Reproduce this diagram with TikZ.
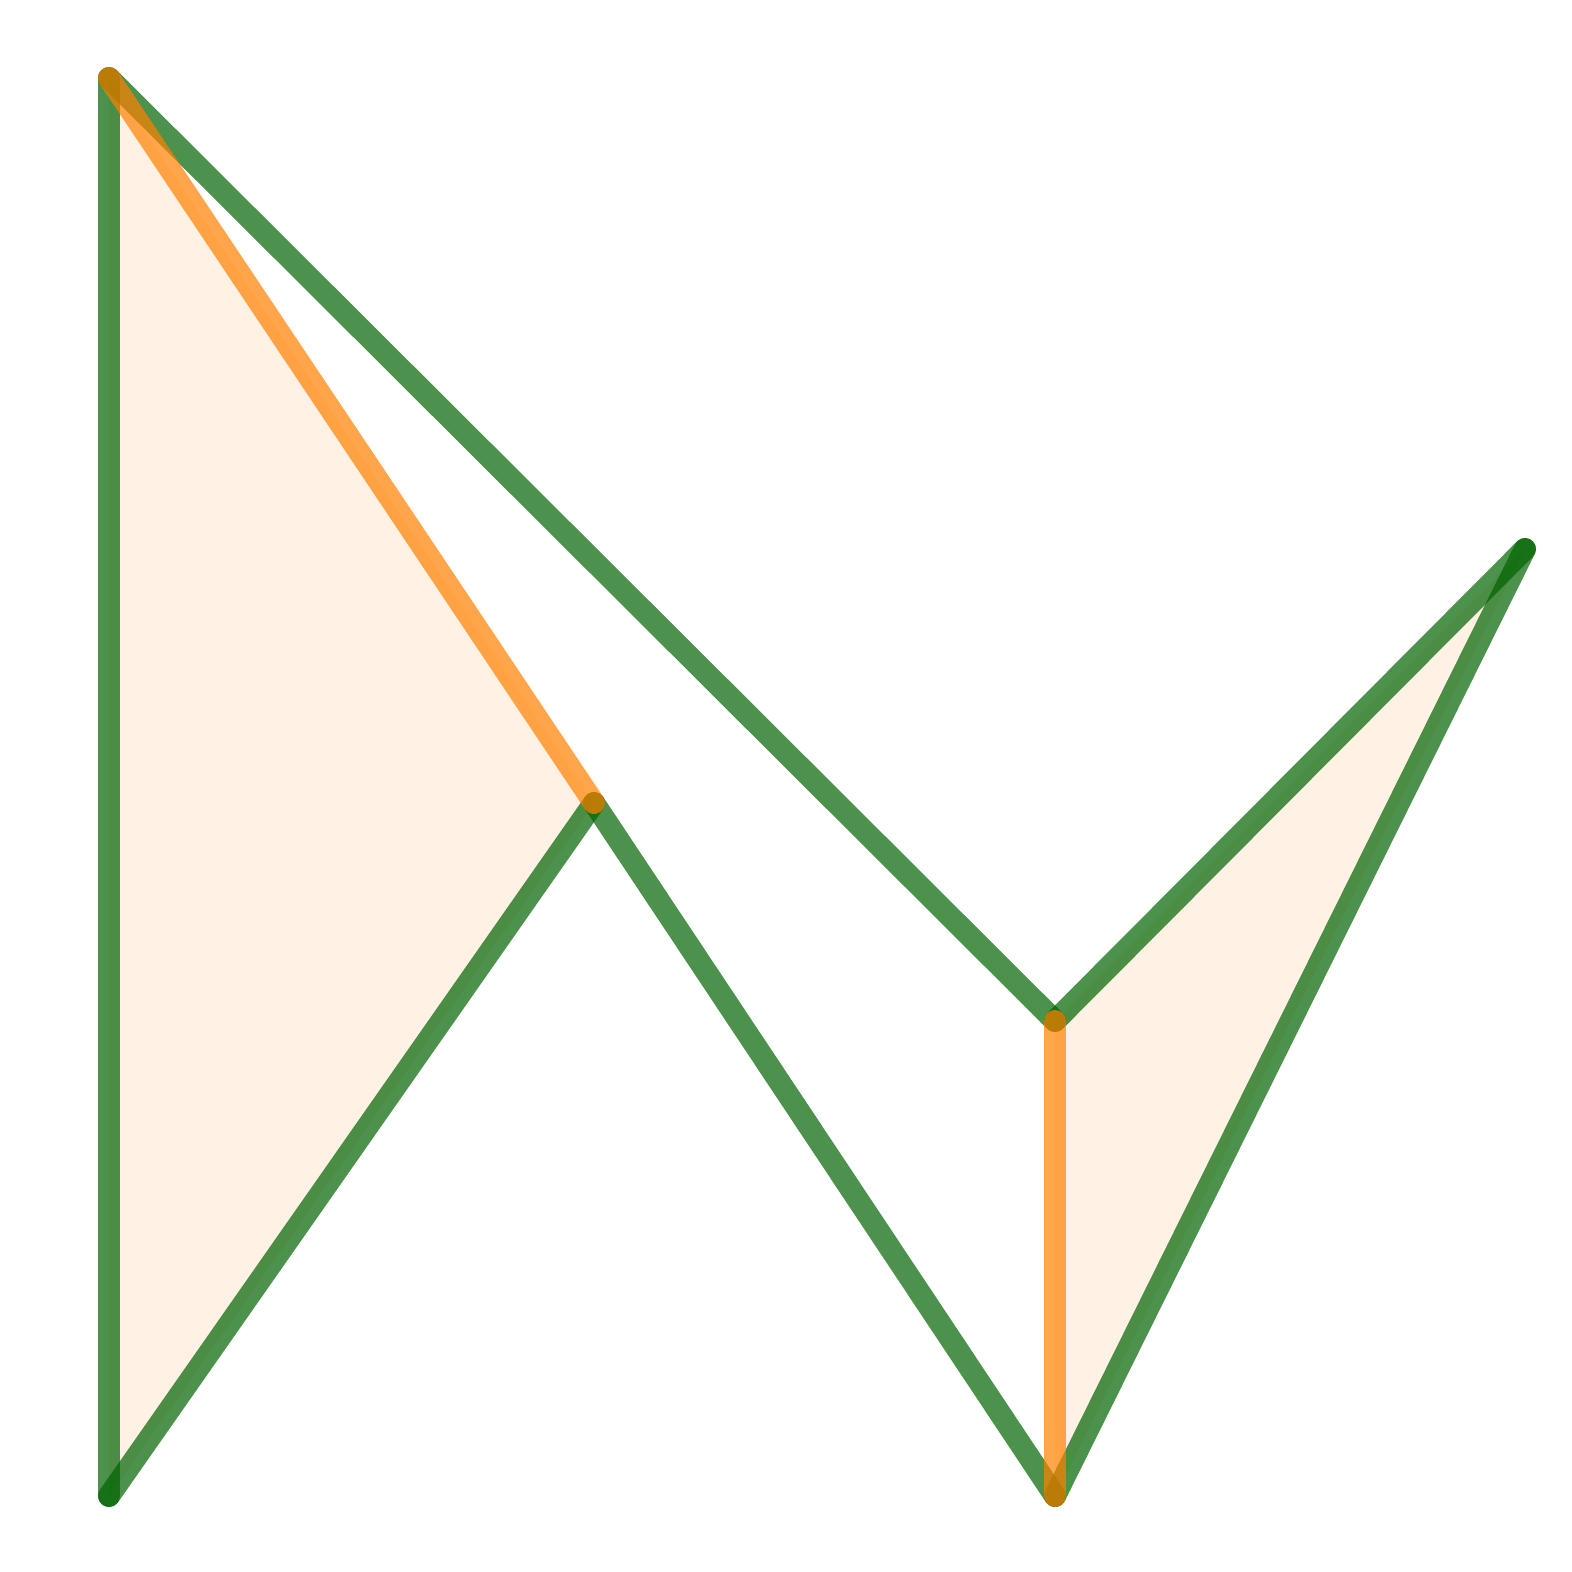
\documentclass[tikz,border=0pt]{standalone}
\begin{document}
\begin{tikzpicture}[
  gline/.style={draw=green!39!black, line width=0.22cm, line cap=round, draw opacity=0.7},
  oline/.style={draw=orange, line width=0.22cm, line cap=round, draw opacity=0.7},
  tri/.style={fill=orange, fill opacity=0.1}
]
\useasboundingbox (0,0) rectangle (15.72,15.72);
\coordinate (A) at (1.09,14.94);
\coordinate (B) at (1.09,0.76);
\coordinate (C) at (5.94,7.69);
\coordinate (D) at (10.55,5.51);
\coordinate (E) at (15.25,10.23);
\coordinate (F) at (10.55,0.76);
\fill[tri] (A) -- (B) -- (C) -- cycle;
\fill[tri] (D) -- (E) -- (F) -- cycle;
\draw[gline] (A) -- (B);
\draw[gline] (B) -- (C);
\draw[gline] (A) -- (D);
\draw[gline] (D) -- (E);
\draw[gline] (E) -- (F);
\draw[gline] (C) -- (F);
\draw[oline] (A) -- (C);
\draw[oline] (D) -- (F);
\end{tikzpicture}
\end{document}
